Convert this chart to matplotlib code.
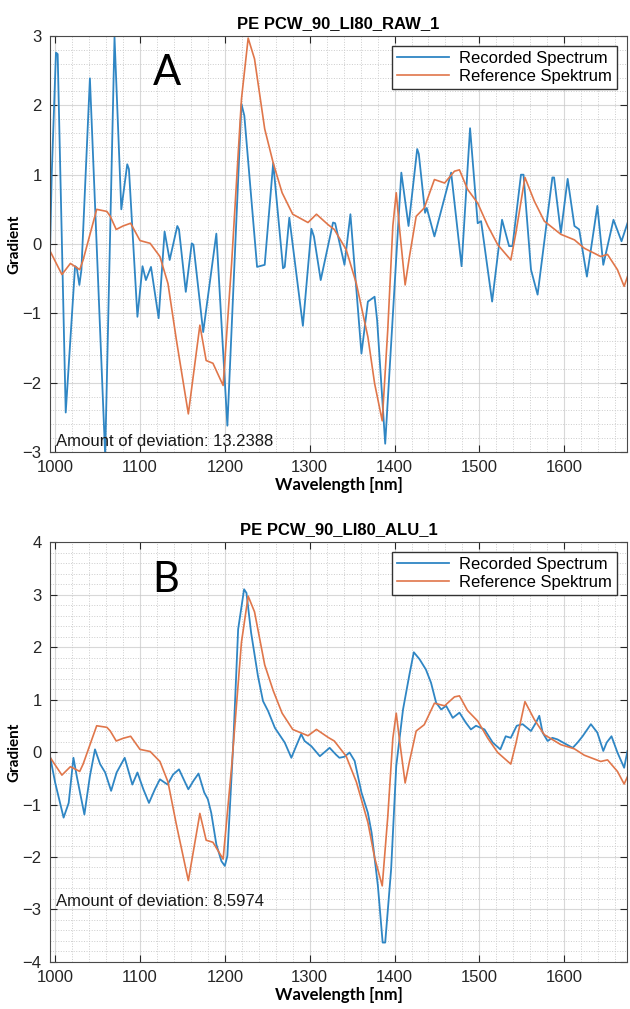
import numpy as np
import matplotlib
matplotlib.use("Agg")
import matplotlib.pyplot as plt
from matplotlib.ticker import MultipleLocator

# reference spectrum (same in both panels)
ref_nm = [994, 1008, 1018, 1023, 1029, 1033, 1049, 1061, 1065, 1072, 1080, 1089,
          1100, 1112, 1123.5, 1133, 1143, 1157, 1170.6, 1178, 1186, 1198, 1208,
          1219.6, 1227.5, 1235, 1247, 1257, 1267.5, 1280, 1298, 1308, 1321.6,
          1329, 1343, 1355, 1368.6, 1376.5, 1385.5, 1392, 1398, 1402, 1406,
          1412.5, 1417.6, 1425.5, 1435, 1447, 1459, 1470.6, 1476.5, 1486, 1498,
          1510, 1521.6, 1537, 1543, 1553.7, 1564.7, 1576.5, 1596, 1612, 1623.5,
          1643, 1651, 1662.7, 1670.6, 1674.5]
ref_val = [-0.1, -0.44, -0.28, -0.32, -0.37, -0.23, 0.5, 0.47, 0.4, 0.21, 0.26, 0.3,
           0.05, 0.01, -0.18, -0.57, -1.39, -2.45, -1.17, -1.68, -1.72, -2.04, -0.28,
           2.09, 2.97, 2.67, 1.66, 1.17, 0.74, 0.43, 0.31, 0.43, 0.28,
           0.21, -0.08, -0.57, -1.34, -2.01, -2.55, -1.24, 0.26, 0.74, 0.21,
           -0.59, -0.18, 0.4, 0.52, 0.93, 0.88, 1.05, 1.07, 0.79, 0.59,
           0.26, -0.01, -0.23, 0.16, 0.96, 0.62, 0.33, 0.14, 0.06, -0.06,
           -0.18, -0.15, -0.37, -0.61, -0.47]

# recorded spectrum, raw (panel A)
raw_nm = [994, 996, 1001, 1003, 1012.5, 1023.5, 1025.5, 1028.6, 1031, 1041, 1059,
          1070, 1078, 1085, 1087, 1097, 1103, 1107, 1113, 1122, 1129, 1135, 1144,
          1146, 1154, 1161, 1163, 1174.5, 1190, 1203, 1219.6, 1223, 1238, 1247,
          1257, 1268.6, 1270.6, 1276, 1292, 1302, 1305, 1313, 1327.5, 1330,
          1341, 1348, 1361, 1368.6, 1376.5, 1379.5, 1389, 1408, 1416.5, 1426.7,
          1428.6, 1436, 1438, 1447, 1466.7, 1479, 1489, 1498, 1502, 1515, 1526.7,
          1535, 1539, 1549, 1552, 1560.8, 1568.6, 1586, 1588, 1596, 1604, 1612,
          1617.6, 1626.7, 1639, 1646, 1658, 1667.5, 1674.5]
raw_val = [-0.1, 1.0, 2.76, 2.74, -2.43, -0.32, -0.34, -0.59, -0.37, 2.39, -3.05,
           2.98, 0.5, 1.15, 1.08, -1.05, -0.32, -0.52, -0.33, -1.07, 0.18, -0.23, 0.26,
           0.21, -0.69, 0.01, -0.01, -1.27, 0.15, -2.62, 2.02, 1.85, -0.33, -0.3,
           1.17, -0.35, -0.33, 0.38, -1.18, 0.22, 0.11, -0.52, 0.31, 0.3,
           -0.3, 0.43, -1.58, -0.83, -0.76, -1.1, -2.88, 1.03, 0.26, 1.37,
           1.3, 0.45, 0.52, 0.11, 1.03, -0.32, 1.67, 0.3, 0.33, -0.83, 0.35,
           -0.03, -0.03, 1.0, 1.0, -0.37, -0.73, 0.96, 0.96, 0.16, 0.94, 0.26,
           0.21, -0.47, 0.55, -0.3, 0.35, 0.04, 0.3]

# recorded spectrum, aluminium (panel B)
alu_nm = [994, 1000, 1010, 1016, 1021.6, 1025.5, 1034.5, 1041, 1047, 1053, 1059,
          1066, 1072.5, 1082, 1091, 1097, 1104, 1110.6, 1117.6, 1123.5, 1132.5,
          1139, 1146, 1157, 1163, 1169, 1175.7, 1180, 1184, 1190, 1196, 1200,
          1203, 1210, 1215.7, 1222.7, 1225.5, 1231, 1239, 1245, 1251, 1259,
          1270.6, 1278.4, 1284, 1290, 1294, 1302, 1312, 1323.5, 1331,
          1335, 1341, 1347, 1353, 1361, 1368.6, 1373, 1380.4, 1386, 1389, 1396,
          1402, 1410, 1417.6, 1422.7, 1429.4, 1437, 1443, 1449, 1455, 1460.8,
          1468.6, 1476.5, 1484, 1490, 1496, 1506, 1515.7, 1524.7, 1531, 1537,
          1544, 1551, 1560.8, 1566.7, 1570.6, 1574.5, 1580.4, 1586, 1592, 1602,
          1610, 1615.7, 1621.6, 1631.4, 1639, 1646, 1650, 1655.7, 1662.7,
          1670.6, 1674.5]
alu_val = [-0.08, -0.58, -1.25, -0.97, -0.11, -0.46, -1.19, -0.46, 0.05, -0.23, -0.39,
           -0.74, -0.39, -0.11, -0.62, -0.39, -0.71, -0.97, -0.71, -0.52, -0.62,
           -0.43, -0.33, -0.71, -0.55, -0.41, -0.77, -0.9, -1.16, -1.76, -2.08, -2.17,
           -1.98, 0.18, 2.34, 3.1, 3.03, 2.27, 1.45, 0.97, 0.78, 0.46,
           0.18, -0.11, 0.11, 0.34, 0.21, 0.11, -0.08, 0.08, -0.05,
           -0.11, -0.09, -0.01, -0.17, -0.77, -1.16, -1.54, -2.55, -3.63, -3.63, -2.23,
           -0.27, 0.81, 1.48, 1.9, 1.77, 1.57, 1.32, 0.94, 0.81, 0.88,
           0.65, 0.75, 0.56, 0.43, 0.5, 0.43, 0.18, 0.05, 0.3, 0.27,
           0.5, 0.53, 0.4, 0.56, 0.69, 0.37, 0.21, 0.27, 0.24, 0.15,
           0.08, 0.18, 0.3, 0.53, 0.37, 0.02, 0.18, 0.3, -0.01,
           -0.3, 0.02]

titles = ["PE PCW_90_LI80_RAW_1", "PE PCW_90_LI80_ALU_1"]
letters = ["A", "B"]
deviation = ["Amount of deviation: 13.2388", "Amount of deviation: 8.5974"]
ylims = [(-3, 3), (-4, 4)]

blue = "#2f86c4"
orange = "#e0764a"

plt.rcParams['font.family'] = ['Liberation Sans', 'DejaVu Sans']

fig = plt.figure(figsize=(6.3, 10.09), dpi=100)
ax_a = fig.add_axes([0.0794, 0.552, 0.9159, 0.4123])
ax_b = fig.add_axes([0.0794, 0.0466, 0.9159, 0.4162])

for ax, rec_nm, rec_val, title, letter, dev, yl in zip(
        [ax_a, ax_b], [raw_nm, alu_nm], [raw_val, alu_val],
        titles, letters, deviation, ylims):
    ax.plot(rec_nm, rec_val, color=blue, lw=1.3, label="Recorded Spectrum")
    ax.plot(ref_nm, ref_val, color=orange, lw=1.2, label="Reference Spektrum")
    ax.set_xlim(994, 1674)
    ax.set_ylim(*yl)
    ax.xaxis.set_major_locator(MultipleLocator(100))
    ax.xaxis.set_minor_locator(MultipleLocator(20))
    ax.yaxis.set_major_locator(MultipleLocator(1))
    ax.yaxis.set_minor_locator(MultipleLocator(0.2))
    ax.grid(which='major', color='#c8c8c8', lw=0.8, ls='-', alpha=0.7)
    ax.grid(which='minor', color='#cccccc', lw=0.7, ls=':')
    ax.set_axisbelow(True)
    ax.tick_params(which='both', direction='in', top=True, right=True,
                   labelsize=12, colors='#262626')
    ax.tick_params(axis='x', pad=6)
    ax.tick_params(axis='y', pad=6)
    ax.tick_params(which='major', length=5)
    ax.tick_params(which='minor', length=0)
    for s in ax.spines.values():
        s.set_color('#4a4a4a')
        s.set_linewidth(0.8)
    ax.set_title(title, fontsize=12, fontweight='bold', pad=6)
    ax.set_xlabel("Wavelength [nm]", fontsize=12, fontweight='bold',
                  family=['Lato', 'DejaVu Sans'], labelpad=1)
    ax.set_ylabel("Gradient", fontsize=11, fontweight='bold',
                  family=['Lato', 'DejaVu Sans'], labelpad=1)
    ax.text(0.178, 0.91, letter, transform=ax.transAxes, fontsize=30,
            family=['Lato', 'DejaVu Sans'], va='center', ha='left')
    ax.text(1001, -2.85, dev, fontsize=12, va='center', ha='left', color='#1a1a1a')
    leg = ax.legend(loc='upper right', fontsize=12, fancybox=False,
                    edgecolor='#333333', framealpha=1, handlelength=3.1,
                    borderaxespad=0.6, borderpad=0.3, labelspacing=0.15,
                    handletextpad=0.6)
    leg.get_frame().set_linewidth(1.0)

fig.savefig("out.png", dpi=100)
